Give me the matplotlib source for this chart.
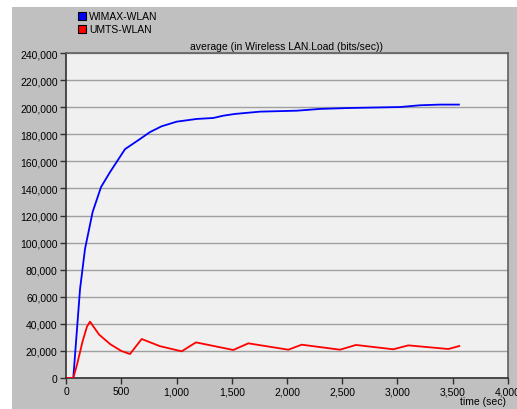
import matplotlib
matplotlib.use("Agg")
import matplotlib.pyplot as plt
from matplotlib.patches import Rectangle
from matplotlib.ticker import FuncFormatter

# WIMAX-WLAN (blue)
wimax_t = [0, 66, 127, 172, 241, 317, 398, 534, 670, 760, 866, 1002, 1183, 1332,
           1423, 1529, 1756, 2090, 2299, 2570, 3023, 3204, 3385, 3556]
wimax_v = [0, 0, 65700, 95300, 122600, 141000, 152000, 169000, 176500, 181600,
           185900, 189300, 191300, 192000, 193700, 195000, 196700, 197400, 198700,
           199400, 200100, 201400, 201900, 201900]

# UMTS-WLAN (red)
umts_t = [0, 66, 100, 150, 190, 217, 300, 400, 500, 579, 685, 850, 1047, 1176,
          1514, 1650, 2012, 2133, 2480, 2624, 2962, 3098, 3460, 3559]
umts_v = [0, 0, 10000, 27000, 38000, 41600, 32000, 25000, 20000, 17700, 28800,
          23500, 19700, 26300, 20700, 25600, 20900, 24600, 20900, 24400, 21200,
          24100, 21400, 23600]

series_names = ["WIMAX-WLAN", "UMTS-WLAN"]
series_colors = ["#0000ff", "#ff0000"]
title = "average (in Wireless LAN.Load (bits/sec))"
xlabel = "time (sec)"

plt.rcParams["font.family"] = ["Liberation Sans", "DejaVu Sans"]
fs = 7.5

W, H = 517, 410
fig = plt.figure(figsize=(W / 100, H / 100), dpi=100, facecolor="white")
fig.patches.append(Rectangle((12 / W, 0), 1 - 12 / W, 402 / H, transform=fig.transFigure,
                             facecolor="#c0c0c0", edgecolor="none", zorder=-10))

ax = fig.add_axes([66 / W, (H - 379) / H, (508 - 66) / W, (379 - 54) / H])
ax.set_facecolor("#f0f0f0")
ax.plot(wimax_t, wimax_v, color=series_colors[0], lw=1.3, zorder=3)
ax.plot(umts_t, umts_v, color=series_colors[1], lw=1.3, zorder=3)

ax.set_xlim(0, 4000)
ax.set_ylim(0, 240000)
ax.set_xticks(range(0, 4001, 500))
ax.set_yticks(range(0, 240001, 20000))
fmt = FuncFormatter(lambda v, p: f"{int(v):,}")
ax.xaxis.set_major_formatter(fmt)
ax.yaxis.set_major_formatter(fmt)
ax.tick_params(direction="out", length=4, width=1, colors="#303030", labelsize=fs,
               labelcolor="black", pad=2)
ax.grid(axis="y", color="#a0a0a0", lw=1)
ax.set_axisbelow(True)
for s in ["left", "bottom"]:
    ax.spines[s].set_color("#303030")
    ax.spines[s].set_linewidth(1.2)
for s in ["top", "right"]:
    ax.spines[s].set_color("#606060")
    ax.spines[s].set_linewidth(1.2)

fig.text(287 / W, 1 - 47 / H, title, ha="center", va="center", fontsize=fs)
fig.text(506 / W, 1 - 402 / H, xlabel, ha="right", va="center", fontsize=fs)

# legend squares
for i, (name, col) in enumerate(zip(series_names, series_colors)):
    y = 17 + i * 13
    fig.patches.append(Rectangle((78 / W, 1 - (y + 4) / H), 8 / W, 8 / H,
                                 transform=fig.transFigure, facecolor=col,
                                 edgecolor="black", lw=0.8))
    fig.text(89 / W, 1 - y / H, name, ha="left", va="center", fontsize=fs)

fig.savefig("out.png", dpi=100, facecolor=fig.get_facecolor())
